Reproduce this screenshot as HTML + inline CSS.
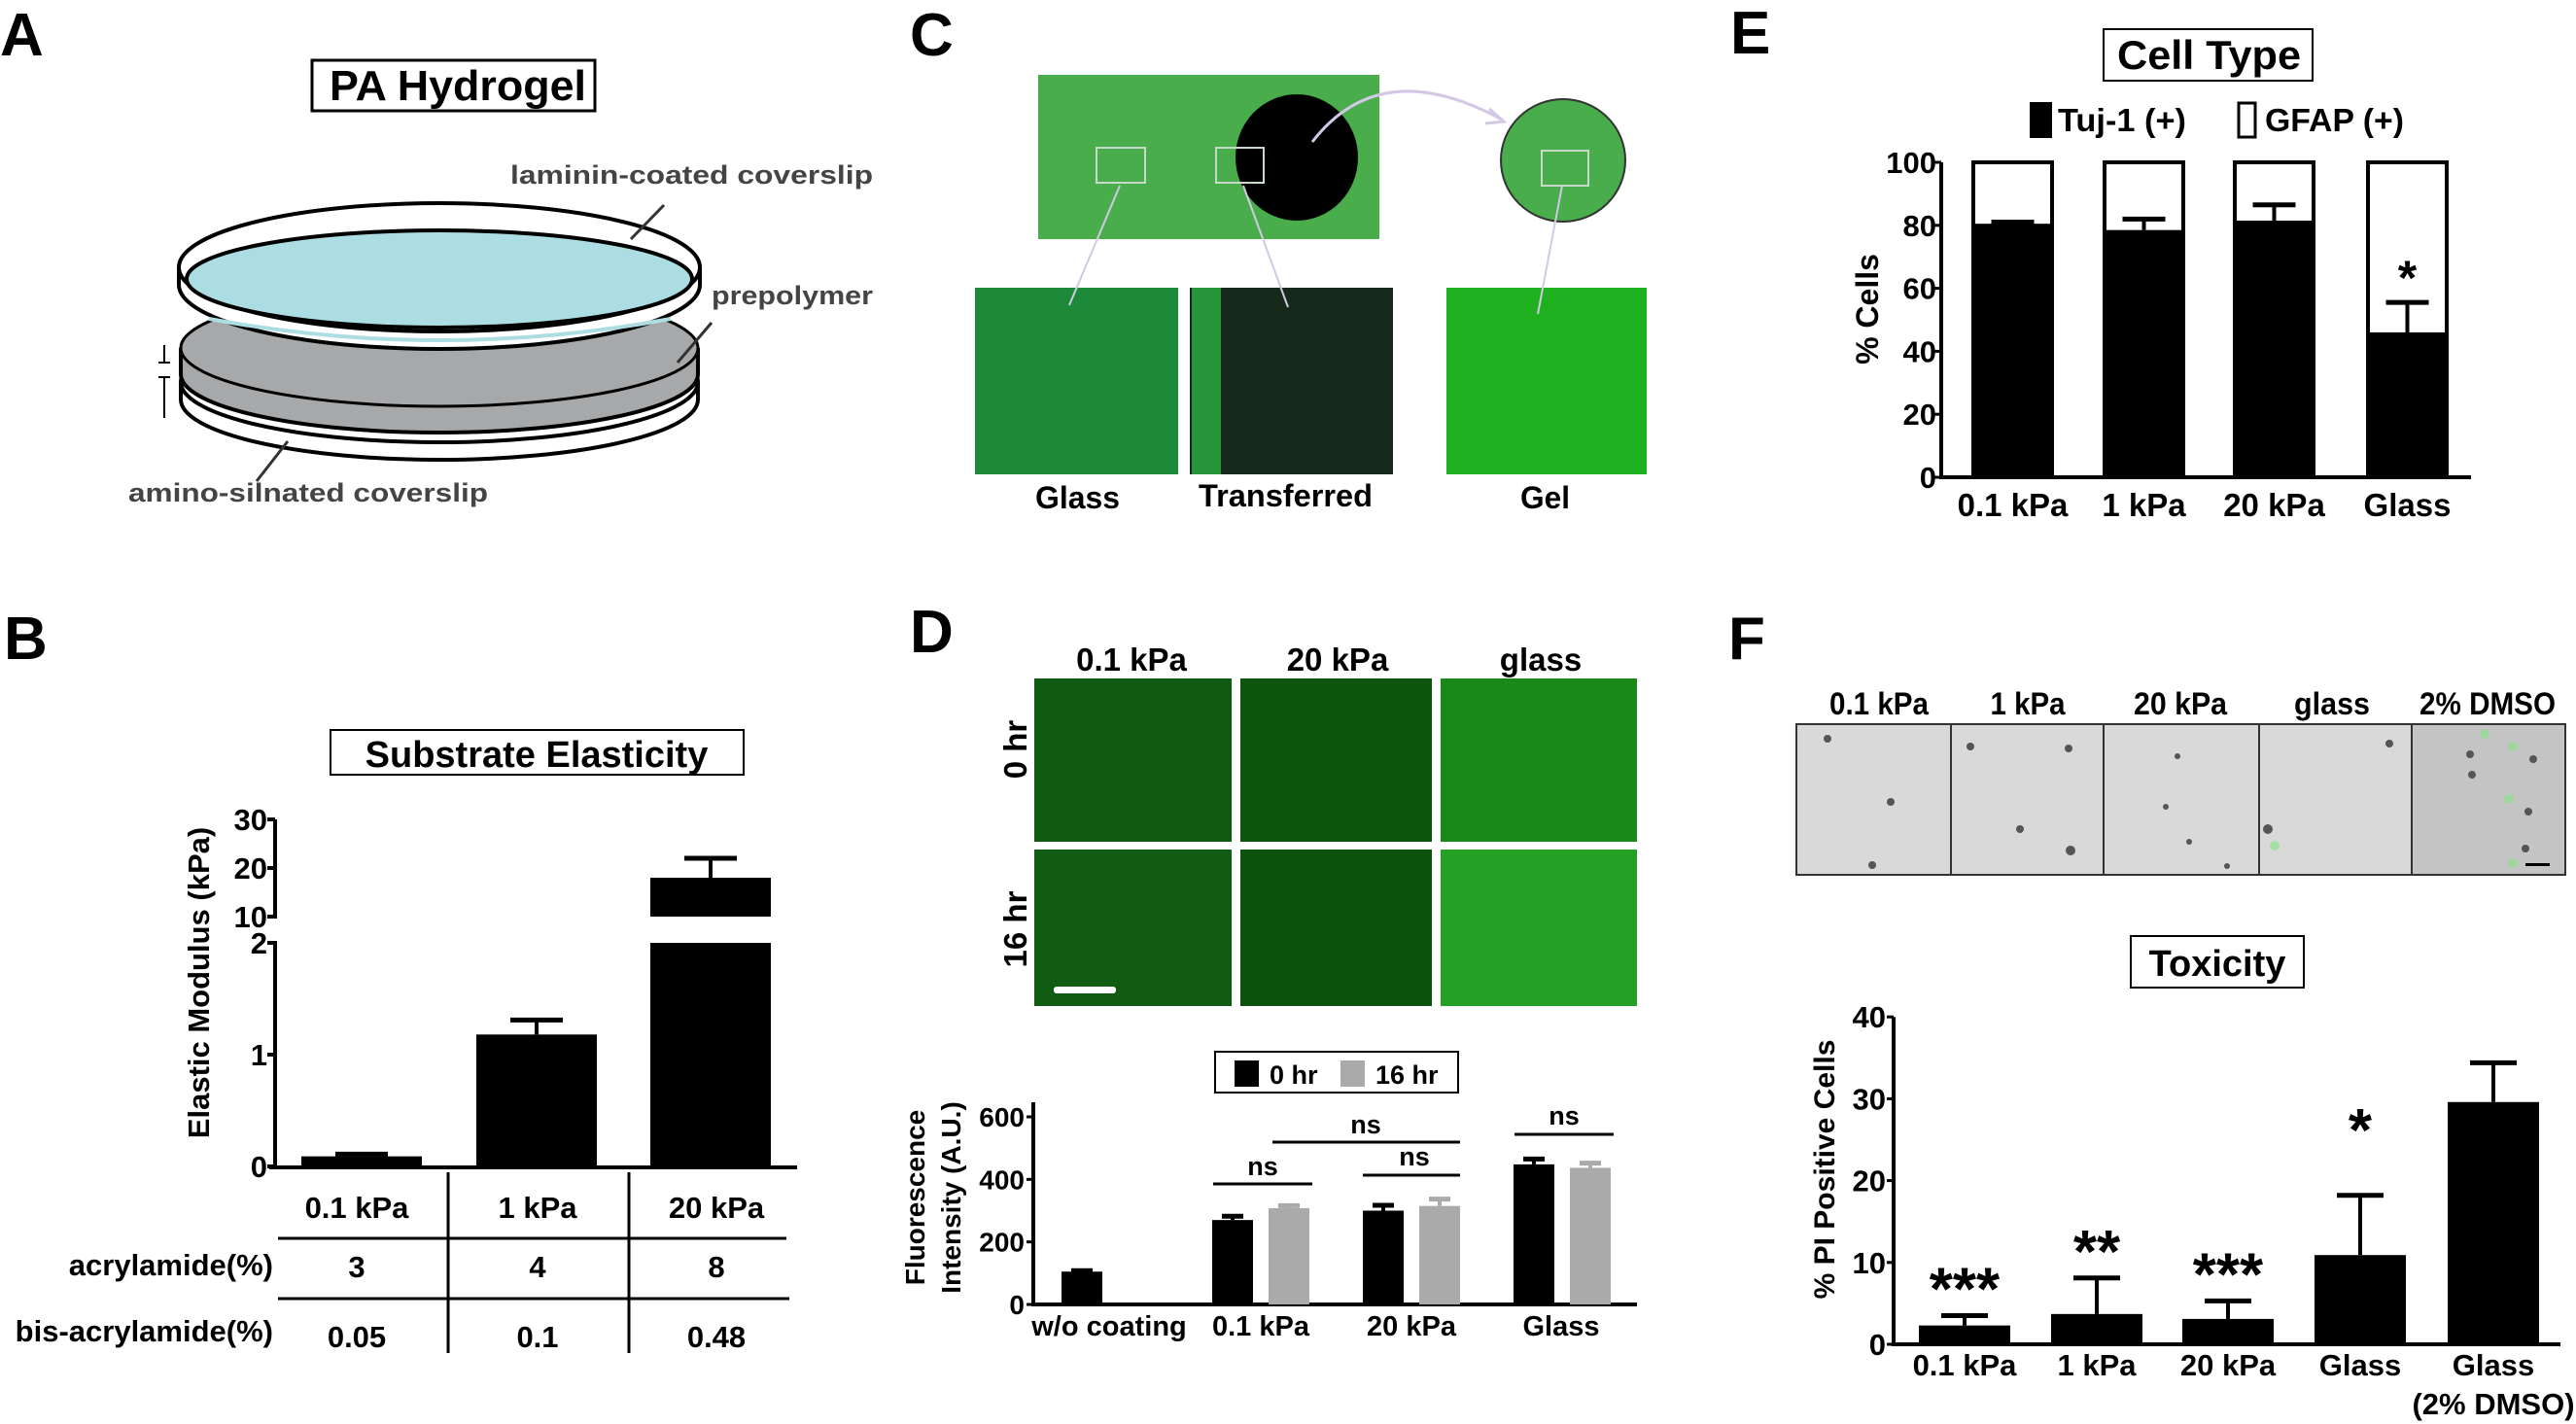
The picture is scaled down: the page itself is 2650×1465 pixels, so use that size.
<!DOCTYPE html>
<html><head><meta charset="utf-8">
<style>
html,body{margin:0;padding:0;background:#fff;}
svg{display:block;}
text{font-family:"Liberation Sans",Arial,sans-serif;font-weight:bold;fill:#000;}
.lbl{font-size:62px;}
</style></head>
<body>
<svg id="fig" width="2650" height="1465" viewBox="0 0 2650 1465" xmlns="http://www.w3.org/2000/svg">
<!-- Panel letters -->
<text class="lbl" x="0" y="57">A</text>
<text class="lbl" x="4" y="678">B</text>
<text class="lbl" x="936" y="57">C</text>
<text class="lbl" x="936" y="671">D</text>
<text class="lbl" x="1780" y="55">E</text>
<text class="lbl" x="1778" y="678">F</text>

<!-- Panel A -->
<g>
<rect x="321" y="62" width="291" height="52" fill="#fff" stroke="#000" stroke-width="3"/>
<text x="339" y="103" font-size="44" textLength="264" lengthAdjust="spacingAndGlyphs">PA Hydrogel</text>
<path d="M186 393 L186 411 A266 62 0 0 0 718 411 L718 393" fill="#fff" stroke="#000" stroke-width="4"/>
<ellipse cx="452" cy="393" rx="266" ry="62" fill="#fff" stroke="#000" stroke-width="4"/>
<path d="M186 358 L186 385 A266 60 0 0 0 718 385 L718 358" fill="#a7a8aa" stroke="#000" stroke-width="4"/>
<ellipse cx="452" cy="358" rx="266" ry="60" fill="#a7a8aa" stroke="#000" stroke-width="3"/>
<path d="M184 275 L184 293 A268 66 0 0 0 720 293 L720 275" fill="#fff" stroke="#000" stroke-width="4"/>
<ellipse cx="452" cy="275" rx="268" ry="66" fill="#fff" stroke="#000" stroke-width="4"/>
<ellipse cx="452" cy="287" rx="260" ry="50" fill="#abdde2" stroke="#000" stroke-width="4"/>
<path d="M215 328 Q452 372 690 328" fill="none" stroke="#abdde2" stroke-width="4"/>
<line x1="169" y1="355" x2="169" y2="372" stroke="#000" stroke-width="2"/>
<line x1="163" y1="373" x2="175" y2="373" stroke="#000" stroke-width="2"/>
<line x1="163" y1="388" x2="175" y2="388" stroke="#000" stroke-width="2"/>
<line x1="169" y1="389" x2="169" y2="430" stroke="#000" stroke-width="2"/>
<line x1="683" y1="211" x2="649" y2="246" stroke="#333" stroke-width="3"/>
<line x1="732" y1="332" x2="697" y2="373" stroke="#333" stroke-width="3"/>
<line x1="296" y1="454" x2="264" y2="495" stroke="#333" stroke-width="3"/>
<text x="525" y="189" font-size="27" textLength="373" lengthAdjust="spacingAndGlyphs" style="fill:#444">laminin-coated coverslip</text>
<text x="732" y="313" font-size="27" textLength="166" lengthAdjust="spacingAndGlyphs" style="fill:#444">prepolymer</text>
<text x="132" y="516" font-size="27" textLength="370" lengthAdjust="spacingAndGlyphs" style="fill:#444">amino-silnated coverslip</text>
</g>

<!-- Panel C -->
<g>
<rect x="1068" y="77" width="351" height="169" fill="#48ad4a"/>
<ellipse cx="1334" cy="162" rx="63" ry="65" fill="#000"/>
<ellipse cx="1608" cy="165" rx="64" ry="63" fill="#48ad4a" stroke="#333" stroke-width="2"/>
<rect x="1128" y="152" width="50" height="36" fill="none" stroke="#c9d9c9" stroke-width="2"/>
<rect x="1251" y="152" width="49" height="36" fill="none" stroke="#c9d9c9" stroke-width="2"/>
<rect x="1586" y="155" width="48" height="36" fill="none" stroke="#c9d9c9" stroke-width="2"/>
<path d="M1350 146 Q1420 55 1545 123" fill="none" stroke="#d2c8e6" stroke-width="3"/>
<path d="M1532 112 L1547 125 L1528 127" fill="none" stroke="#d2c8e6" stroke-width="3"/>
<rect x="1003" y="296" width="209" height="192" fill="#1d8a3a"/>
<rect x="1224" y="296" width="209" height="192" fill="#17291a"/>
<rect x="1226" y="296" width="30" height="192" fill="#27963a"/>
<rect x="1488" y="296" width="206" height="192" fill="#1fb020"/>
<line x1="1152" y1="191" x2="1100" y2="314" stroke="#d2c8e6" stroke-width="2"/>
<line x1="1279" y1="191" x2="1325" y2="316" stroke="#d2c8e6" stroke-width="2"/>
<line x1="1607" y1="191" x2="1582" y2="323" stroke="#d2c8e6" stroke-width="2"/>
<text x="1065" y="523" font-size="32" textLength="87" lengthAdjust="spacingAndGlyphs">Glass</text>
<text x="1233" y="521" font-size="32" textLength="179" lengthAdjust="spacingAndGlyphs">Transferred</text>
<text x="1564" y="523" font-size="32" textLength="51" lengthAdjust="spacingAndGlyphs">Gel</text>
</g>

<!-- Panel D images -->
<g>
<text x="1164" y="690" font-size="33" text-anchor="middle">0.1 kPa</text>
<text x="1376" y="690" font-size="33" text-anchor="middle">20 kPa</text>
<text x="1585" y="690" font-size="33" text-anchor="middle">glass</text>
<rect x="1064" y="698" width="203" height="168" fill="#0e5a10"/>
<rect x="1276" y="698" width="197" height="168" fill="#0b550c"/>
<rect x="1482" y="698" width="202" height="168" fill="#198a1a"/>
<rect x="1064" y="874" width="203" height="161" fill="#0f5c12"/>
<rect x="1276" y="874" width="197" height="161" fill="#0b530c"/>
<rect x="1482" y="874" width="202" height="161" fill="#24a024"/>
<rect x="1084" y="1015" width="64" height="7" rx="3" fill="#fff"/>
<text x="0" y="0" font-size="33" text-anchor="middle" transform="translate(1056 771) rotate(-90)">0 hr</text>
<text x="0" y="0" font-size="33" text-anchor="middle" transform="translate(1056 956) rotate(-90)">16 hr</text>
</g>

<!-- Panel F images -->
<g>
<text x="1933" y="735" font-size="32" text-anchor="middle" textLength="102" lengthAdjust="spacingAndGlyphs">0.1 kPa</text>
<text x="2086" y="735" font-size="32" text-anchor="middle" textLength="77" lengthAdjust="spacingAndGlyphs">1 kPa</text>
<text x="2243" y="735" font-size="32" text-anchor="middle" textLength="96" lengthAdjust="spacingAndGlyphs">20 kPa</text>
<text x="2399" y="735" font-size="32" text-anchor="middle" textLength="78" lengthAdjust="spacingAndGlyphs">glass</text>
<text x="2559" y="735" font-size="32" text-anchor="middle" textLength="140" lengthAdjust="spacingAndGlyphs">2% DMSO</text>
<rect x="1848" y="745" width="791" height="155" fill="#d9d9d9" stroke="#333" stroke-width="2"/>
<rect x="2481" y="746" width="157" height="153" fill="#c4c4c4"/>
<g stroke="#333" stroke-width="2">
<line x1="2007" y1="745" x2="2007" y2="900"/><line x1="2164" y1="745" x2="2164" y2="900"/>
<line x1="2324" y1="745" x2="2324" y2="900"/><line x1="2481" y1="745" x2="2481" y2="900"/></g>
<g fill="#555"><circle cx="1880" cy="760" r="4"/><circle cx="1945" cy="825" r="4"/><circle cx="1926" cy="890" r="4"/>
<circle cx="2027" cy="768" r="4"/><circle cx="2128" cy="770" r="4"/><circle cx="2078" cy="853" r="4"/><circle cx="2130" cy="875" r="5"/>
<circle cx="2240" cy="778" r="3"/><circle cx="2228" cy="830" r="3"/><circle cx="2252" cy="866" r="3"/><circle cx="2291" cy="891" r="3"/>
<circle cx="2458" cy="765" r="4"/><circle cx="2333" cy="853" r="5"/>
<circle cx="2541" cy="776" r="4"/><circle cx="2543" cy="797" r="4"/><circle cx="2606" cy="781" r="4"/><circle cx="2601" cy="835" r="4"/><circle cx="2598" cy="873" r="4"/></g>
<g fill="#8fe08f" opacity="0.7"><circle cx="2556" cy="755" r="5"/><circle cx="2585" cy="768" r="5"/><circle cx="2581" cy="822" r="5"/><circle cx="2585" cy="888" r="5"/><circle cx="2340" cy="870" r="5"/></g>
<rect x="2598" y="888" width="25" height="3" fill="#000"/>
</g>

<g id="charts"></g>
</svg>
<script>
// ---------- Panel B data ----------
const bCats = ["0.1 kPa", "1 kPa", "20 kPa"];
const bVals = [0.09, 1.18, 18];
const bErr = [0.02, 0.13, 4];
const bAcryl = ["3", "4", "8"];
const bBis = ["0.05", "0.1", "0.48"];
const bTicksLow = [0, 1, 2];
const bTicksHigh = [10, 20, 30];
// ---------- Panel D data ----------
const dCats = ["w/o coating", "0.1 kPa", "20 kPa", "Glass"];
const d0hr = [105, 270, 300, 448];
const d0hrErr = [3, 12, 17, 17];
const d16hr = [null, 308, 315, 437];
const d16hrErr = [null, 8, 22, 15];
const dTicks = [0, 200, 400, 600];
// ---------- Panel E data ----------
const eCats = ["0.1 kPa", "1 kPa", "20 kPa", "Glass"];
const eTuj = [80.5, 78.5, 81.5, 46];
const eTujErr = [0.5, 3.5, 5, 9.5];
const eTicks = [0, 20, 40, 60, 80, 100];
// ---------- Panel F data ----------
const fCats = ["0.1 kPa", "1 kPa", "20 kPa", "Glass", "Glass"];
const fVals = [2.3, 3.7, 3.1, 10.9, 29.6];
const fErr = [1.2, 4.4, 2.2, 7.3, 4.8];
const fStars = ["***", "**", "***", "*", ""];
const fTicks = [0, 10, 20, 30, 40];

const NS = "http://www.w3.org/2000/svg";
const root = document.getElementById("charts");
function mk(tag, attrs, parent) {
  const el = document.createElementNS(NS, tag);
  for (const k in attrs) el.setAttribute(k, attrs[k]);
  (parent || root).appendChild(el);
  return el;
}
function txt(s, x, y, size, anchor, parent) {
  const t = mk("text", {x: x, y: y, "font-size": size, "text-anchor": anchor || "middle"}, parent);
  t.textContent = s;
  return t;
}
function errbar(x, y1, y2, hw, color, g) {
  mk("line", {x1: x, y1: y1, x2: x, y2: y2, stroke: color, "stroke-width": 4}, g);
  mk("line", {x1: x - hw, y1: y2, x2: x + hw, y2: y2, stroke: color, "stroke-width": 5}, g);
}

// ===== Panel B =====
(function () {
  const g = mk("g", {});
  
  
  const box = mk("rect", {x: 340, y: 751, width: 425, height: 46, fill: "#fff", stroke: "#000", "stroke-width": 2}, g);
  
  
  txt("Substrate Elasticity", 552, 789, 38, "middle", g);
  const yLow = v => 1200 - v * 115;
  const yHigh = v => 943 - (v - 10) * 5;
  const ax = 283;
  mk("line", {x1: ax, y1: 843, x2: ax, y2: 945, stroke: "#000", "stroke-width": 4}, g);
  mk("line", {x1: ax, y1: 968, x2: ax, y2: 1202, stroke: "#000", "stroke-width": 4}, g);
  mk("line", {x1: 277, y1: 1201, x2: 820, y2: 1201, stroke: "#000", "stroke-width": 4}, g);
  bTicksLow.forEach(v => { mk("line", {x1: ax - 8, y1: yLow(v), x2: ax, y2: yLow(v), stroke: "#000", "stroke-width": 4}, g); txt(String(v), ax - 8, yLow(v) + 11, 31, "end", g); });
  bTicksHigh.forEach(v => { mk("line", {x1: ax - 8, y1: yHigh(v), x2: ax, y2: yHigh(v), stroke: "#000", "stroke-width": 4}, g); txt(String(v), ax - 8, yHigh(v) + 11, 31, "end", g); });
  const yt = txt("Elastic Modulus  (kPa)", 0, 0, 31, "middle", g);
  yt.setAttribute("transform", "translate(215 1011) rotate(-90)");
  
  const cx = [372, 552, 731];
  const bw = 124;
  bVals.forEach((v, i) => {
    if (v <= 2) {
      const b = mk("rect", {x: cx[i] - bw / 2, y: yLow(v), width: bw, height: 1200 - yLow(v), fill: "#000"}, g);
      
      
      errbar(cx[i], yLow(v), yLow(v + bErr[i]), 27, "#000", g);
    } else {
      const b = mk("rect", {x: cx[i] - bw / 2, y: yLow(2), width: bw, height: 1200 - yLow(2), fill: "#000"}, g);
      
      
      const b2 = mk("rect", {x: cx[i] - bw / 2, y: yHigh(v), width: bw, height: yHigh(10) - yHigh(v), fill: "#000"}, g);
      
      
      errbar(cx[i], yHigh(v), yHigh(v + bErr[i]), 27, "#000", g);
    }
  });
  [461, 647].forEach(x => mk("line", {x1: x, y1: 1206, x2: x, y2: 1392, stroke: "#000", "stroke-width": 3}, g));
  mk("line", {x1: 286, y1: 1274, x2: 809, y2: 1274, stroke: "#000", "stroke-width": 3}, g);
  mk("line", {x1: 286, y1: 1336, x2: 812, y2: 1336, stroke: "#000", "stroke-width": 3}, g);
  const tc = [367, 553, 737];
  bCats.forEach((c, i) => txt(c, tc[i], 1253, 31, "middle", g));
  bAcryl.forEach((c, i) => txt(c, tc[i], 1314, 31, "middle", g));
  bBis.forEach((c, i) => txt(c, tc[i], 1386, 31, "middle", g));
  txt("acrylamide(%)", 281, 1312, 31, "end", g);
  txt("bis-acrylamide(%)", 281, 1380, 31, "end", g);
})();

// ===== Panel D chart =====
(function () {
  const g = mk("g", {});
  
  
  const y = v => 1342 - v * (193 / 600);
  const ax = 1063;
  mk("line", {x1: ax, y1: 1134, x2: ax, y2: 1344, stroke: "#000", "stroke-width": 4}, g);
  mk("line", {x1: ax - 2, y1: 1342, x2: 1684, y2: 1342, stroke: "#000", "stroke-width": 4}, g);
  dTicks.forEach(v => { mk("line", {x1: ax - 7, y1: y(v), x2: ax, y2: y(v), stroke: "#000", "stroke-width": 3}, g); txt(String(v), ax - 9, y(v) + 10, 28, "end", g); });
  const t1 = txt("Fluorescence", 0, 0, 28, "middle", g); t1.setAttribute("transform", "translate(951 1232) rotate(-90)");
  const t2 = txt("Intensity (A.U.)", 0, 0, 28, "middle", g); t2.setAttribute("transform", "translate(988 1232) rotate(-90)");
  const gx = [1113, 1297, 1452, 1607];
  const bw = 42;
  dCats.forEach((c, i) => {
    const bx0 = i === 0 ? 1092 : gx[i] - 50;
    const b = mk("rect", {x: bx0, y: y(d0hr[i]), width: bw, height: 1342 - y(d0hr[i]), fill: "#000"}, g);
    
    
    errbar(bx0 + bw / 2, y(d0hr[i]), y(d0hr[i] + d0hrErr[i]), 11, "#000", g);
    if (d16hr[i] !== null) {
      const bx1 = bx0 + 58;
      const b2 = mk("rect", {x: bx1, y: y(d16hr[i]), width: bw, height: 1342 - y(d16hr[i]), fill: "#aaaaaa"}, g);
      
      
      errbar(bx1 + bw / 2, y(d16hr[i]), y(d16hr[i] + d16hrErr[i]), 11, "#aaaaaa", g);
    }
  });
  const xl = [1141, 1297, 1452, 1606];
  dCats.forEach((c, i) => txt(c, xl[i], 1374, 29, "middle", g));
  [[1248, 1350, 1218, 1299, 1209], [1402, 1502, 1209, 1455, 1199], [1309, 1502, 1175, 1405, 1166], [1558, 1660, 1167, 1609, 1157]].forEach(s => {
    mk("line", {x1: s[0], y1: s[2], x2: s[1], y2: s[2], stroke: "#000", "stroke-width": 3}, g);
    txt("ns", s[3], s[4], 27, "middle", g);
  });
  const lb = mk("rect", {x: 1250, y: 1082, width: 250, height: 42, fill: "#fff", stroke: "#000", "stroke-width": 2}, g);
  
  
  mk("rect", {x: 1270, y: 1091, width: 25, height: 27, fill: "#000"}, g);
  txt("0 hr", 1306, 1115, 27, "start", g);
  mk("rect", {x: 1379, y: 1091, width: 25, height: 27, fill: "#aaaaaa"}, g);
  txt("16 hr", 1415, 1115, 27, "start", g);
})();

// ===== Panel E =====
(function () {
  const g = mk("g", {});
  
  
  const box = mk("rect", {x: 2164, y: 30, width: 215, height: 53, fill: "#fff", stroke: "#000", "stroke-width": 2}, g);
  
  
  const tt = mk("text", {x: 2178, y: 71, "font-size": 42, textLength: 189, lengthAdjust: "spacingAndGlyphs"}, g);
  tt.textContent = "Cell Type";
  mk("rect", {x: 2088, y: 105, width: 23, height: 37, fill: "#000"}, g);
  const l1 = mk("text", {x: 2117, y: 135, "font-size": 33, textLength: 132, lengthAdjust: "spacingAndGlyphs"}, g);
  l1.textContent = "Tuj-1 (+)";
  mk("rect", {x: 2303, y: 106, width: 17, height: 35, fill: "#fff", stroke: "#000", "stroke-width": 3}, g);
  const l2 = mk("text", {x: 2330, y: 135, "font-size": 33, textLength: 143, lengthAdjust: "spacingAndGlyphs"}, g);
  l2.textContent = "GFAP (+)";
  const y = v => 491 - v * 3.24;
  const ax = 1997;
  mk("line", {x1: ax, y1: y(100), x2: ax, y2: 493, stroke: "#000", "stroke-width": 4}, g);
  mk("line", {x1: ax - 2, y1: 491, x2: 2542, y2: 491, stroke: "#000", "stroke-width": 4}, g);
  eTicks.forEach(v => { mk("line", {x1: ax - 7, y1: y(v), x2: ax, y2: y(v), stroke: "#000", "stroke-width": 3}, g); txt(String(v), ax - 5, y(v) + 11, 31, "end", g); });
  const yt = txt("% Cells", 0, 0, 32, "middle", g);
  yt.setAttribute("transform", "translate(1932 318) rotate(-90)");
  const bx = [2030, 2165, 2299, 2436];
  const bw = 81;
  eCats.forEach((c, i) => {
    const w = mk("rect", {x: bx[i], y: y(100), width: bw, height: 491 - y(100), fill: "#fff", stroke: "#000", "stroke-width": 4}, g);
    
    
    const b = mk("rect", {x: bx[i], y: y(eTuj[i]), width: bw, height: 491 - y(eTuj[i]), fill: "#000"}, g);
    
    
    errbar(bx[i] + bw / 2, y(eTuj[i]), y(eTuj[i] + eTujErr[i]), 22, "#000", g);
    txt(c, bx[i] + bw / 2, 531, 33, "middle", g);
  });
  txt("*", bx[3] + bw / 2, y(eTuj[3] + eTujErr[3]) - 8, 50, "middle", g);
})();

// ===== Panel F =====
(function () {
  const g = mk("g", {});
  
  
  const box = mk("rect", {x: 2192, y: 963, width: 178, height: 53, fill: "#fff", stroke: "#000", "stroke-width": 2}, g);
  
  
  txt("Toxicity", 2281, 1004, 38, "middle", g);
  const y = v => 1383 - v * 8.42;
  const ax = 1948;
  mk("line", {x1: ax, y1: y(40), x2: ax, y2: 1385, stroke: "#000", "stroke-width": 4}, g);
  mk("line", {x1: ax - 2, y1: 1383, x2: 2634, y2: 1383, stroke: "#000", "stroke-width": 4}, g);
  fTicks.forEach(v => { mk("line", {x1: ax - 7, y1: y(v), x2: ax, y2: y(v), stroke: "#000", "stroke-width": 3}, g); txt(String(v), ax - 8, y(v) + 11, 31, "end", g); });
  const yt = txt("% PI Positive Cells", 0, 0, 30, "middle", g);
  yt.setAttribute("transform", "translate(1887 1203) rotate(-90)");
  const bx = [1974, 2110, 2245, 2381, 2518];
  const bw = 94;
  fCats.forEach((c, i) => {
    const b = mk("rect", {x: bx[i], y: y(fVals[i]), width: bw, height: 1383 - y(fVals[i]), fill: "#000"}, g);
    
    
    errbar(bx[i] + bw / 2, y(fVals[i]), y(fVals[i] + fErr[i]), 24, "#000", g);
    txt(c, bx[i] + bw / 2, 1415, 31, "middle", g);
    if (fStars[i]) txt(fStars[i], bx[i] + bw / 2, y(fVals[i] + fErr[i]) - 18 + (fStars[i].length === 1 ? -28 : 12), 62, "middle", g);
  });
  txt("(2% DMSO)", bx[4] + bw / 2, 1455, 31, "middle", g);
})();
</script>
</body></html>
